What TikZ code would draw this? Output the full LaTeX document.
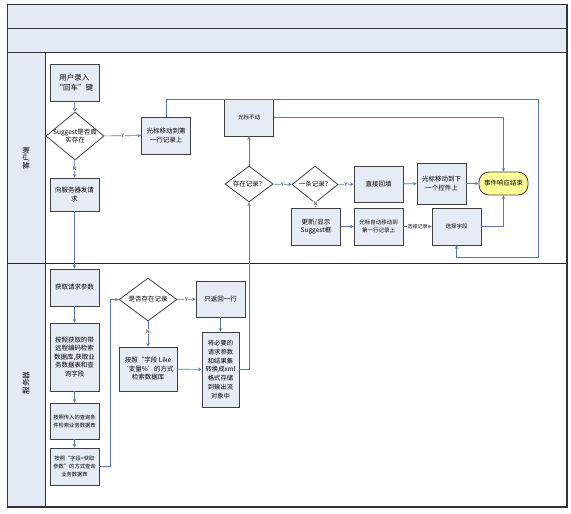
\documentclass[tikz,border=0pt]{standalone}
\usepackage{fontspec}
\setmainfont{Liberation Serif}
\newfontfamily\cjk{Noto Sans CJK SC}
\usepackage{tikz}
\usetikzlibrary{positioning, arrows, calc, shapes.geometric}
\definecolor{boxfill}{HTML}{E6ECF6}
\definecolor{lanefill}{HTML}{E4EAF5}
\definecolor{flowline}{HTML}{5878AE}
\definecolor{endfill}{HTML}{FFFF99}
\tikzset{
    task/.style={ % Sets the properties for each process box
        draw=black!75,
        thick,
        fill=boxfill,
        align=center,
        inner sep=1pt,
        minimum width=49pt,
        minimum height=37pt,
        font=\cjk\fontsize{6.5}{8.5}\selectfont
    },
    choice/.style={ % Decision diamonds, text goes in as a centre label
        diamond,
        draw=black!75,
        thick,
        fill=white,
        inner sep=0pt
    },
    asks/.style={align=center, inner sep=0pt, font=\cjk\fontsize{6.5}{8}\selectfont},
    finish/.style={ % End of the event
        draw=black!75,
        thick,
        fill=endfill,
        rounded corners=10pt,
        minimum width=49pt,
        minimum height=23pt,
        font=\cjk\fontsize{6.5}{8}\selectfont
    },
    yn/.style={fill=white, inner sep=0.6pt, text=black, font=\cjk\fontsize{5}{5}\selectfont},
    lane/.style={draw=black!80, fill=lanefill},
    flow/.style={draw, ->, >=stealth, flowline, semithick},
    every edge/.style={ % Sets the properties for each transition
        draw,
        ->,>=stealth,
        flowline,
        semithick
    }
}
\begin{document}
\begin{tikzpicture}[x=1pt, y=-1pt]
    \useasboundingbox (0,0) rectangle (571,514);
    % swimlanes
    \filldraw[white, draw=black!80, thick] (7,4) rectangle (567,507);
    \draw[lane] (7,4) rectangle (567,28);
    \draw[lane] (7,28) rectangle (567,52);
    \draw[lane] (7,52) rectangle (45,507);
    \draw[black!85, thick] (7,263) -- (567,263);
    \draw[black!80, very thick] (7,507) -- (567,507) -- (567,4);
    \node[rotate=90, font=\cjk\fontsize{7.5}{8}\selectfont] (client) at (26,158) {客户端};
    \node[rotate=90, font=\cjk\fontsize{7.5}{8}\selectfont] (server) at (26,383) {服务器};

    % client side
    \node[task, font=\cjk\fontsize{7.5}{10}\selectfont] (input) at (74.5,82.5) {用户录入\\“回车”键};
    \node[choice, minimum width=58pt, minimum height=48pt,
          label={[asks]center:Suggest是否真\\实存在}] (sug) at (75,136) {};
    \node[task] (first) at (166,135.5) {光标移动到第\\一行记录上};
    \node[task, minimum height=33pt] (req) at (74.5,194.5) {向服务器发请\\求};
    \node[task, font=\cjk\fontsize{5.5}{7}\selectfont] (nomove) at (249,117.5) {光标不动};
    \node[choice, minimum width=48pt, minimum height=36pt,
          label={[asks]center:存在记录？}] (exists) at (249,184) {};
    \node[choice, minimum width=46pt, minimum height=37pt,
          label={[asks]center:一条记录？}] (one) at (315,184.5) {};
    \node[task, minimum height=36pt] (fill) at (378.5,184) {直接回填};
    \node[task, minimum height=41pt] (next) at (441.5,183.5) {光标移动到下\\一个控件上};
    \node[finish] (end) at (503.5,183.5) {事件响应结束};
    \node[task] (update) at (316,226.5) {更新/显示\\Suggest框};
    \node[task, font=\cjk\fontsize{5.5}{8}\selectfont] (autofirst) at (378.5,226.5) {光标自动移动到\\第一行记录上};
    \node[task, font=\cjk\fontsize{5.5}{8}\selectfont] (pick) at (456.5,226.5) {选择字段};
    \coordinate (loopne) at (538,99);
    \coordinate (loopse) at (538,257);

    % server side
    \node[task] (getp) at (74.5,287.5) {获取请求参数};
    \node[task, minimum height=68pt] (lookup) at (74.5,357) {按照获取的带\\远程编码检索\\数据库,获取业\\务数据表和查\\询字段};
    \node[task, minimum height=36pt, font=\cjk\fontsize{5.3}{8}\selectfont] (cond) at (74.5,421) {按照传入的查询条\\件检索业务数据表};
    \node[task, font=\cjk\fontsize{5.3}{8}\selectfont] (byfield) at (74.5,466.5) {按照“字段=获取\\参数”的方式查询\\业务数据表};
    \node[choice, minimum width=58pt, minimum height=43pt,
          label={[asks]center:是否存在记录}] (has) at (148,299.5) {};
    \node[task, minimum height=36pt] (onlyone) at (220.5,299) {只返回一行};
    \node[task, minimum width=58pt, minimum height=44pt] (like) at (148,369) {按照“字段 Like\\‘变量\%’的方式\\检索数据库};
    \node[task, minimum width=37pt, minimum height=75pt, font=\cjk\fontsize{6.3}{8.8}\selectfont] (xml) at (220.5,369.5) {将必要的\\请求参数\\和结果集\\转换成xml\\格式存储\\到输出流\\对象中};

    \draw   (input) edge (sug)
            (sug) edge node[yn]{Y} (first)
            (sug) edge node[yn]{N} (req)
            (req) edge (getp)
            (getp) edge (lookup)
            (lookup) edge (cond)
            (cond) edge (byfield)
            (has) edge node[yn]{Y} (onlyone)
            (has) edge node[yn, pos=0.4]{N} (like)
            (onlyone) edge (xml)
            (like) edge (xml)
            (exists) edge (nomove)
            (exists) edge node[yn]{Y} (one)
            (one) edge node[yn]{Y} (fill)
            (one) edge node[yn, pos=0.1]{N} (update)
            (update) edge (autofirst)
            (autofirst) edge node[yn]{选择记录} (pick)
            (fill) edge (next)
            (next) edge (end)
    ;
    \draw[flow] (byfield.east) -- ++(11,0) |- (has);
    \draw[flow] (xml.east) -| (exists.south);
    \draw[flow] (nomove.east) -| (end.north);
    \draw[flow] (pick.east) -| (end.south);
    \draw[flow] (first.north) |- (loopne) -- (loopse) -| (pick.south);
\end{tikzpicture}
\end{document}
